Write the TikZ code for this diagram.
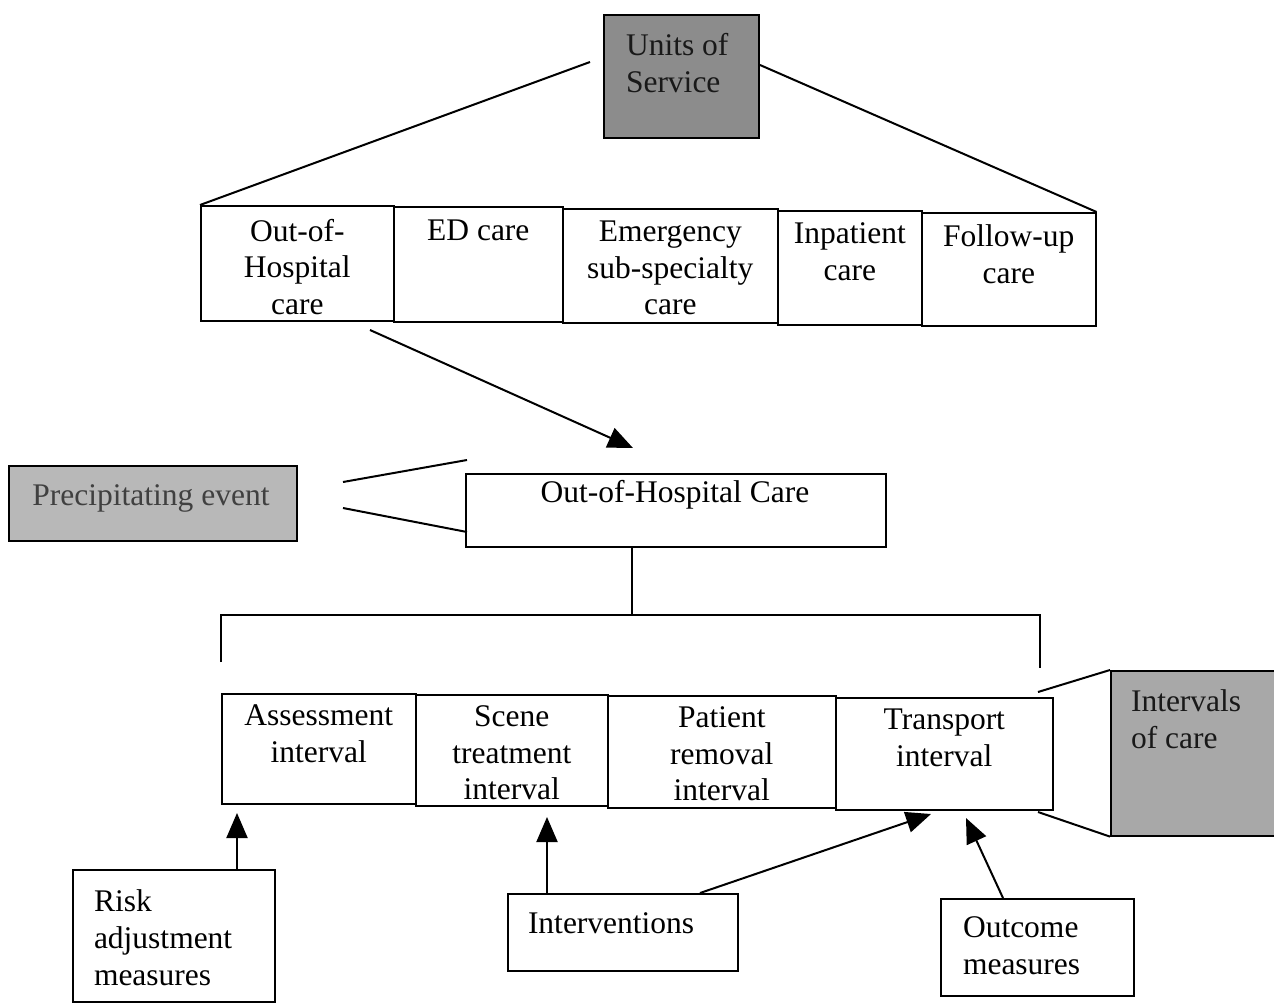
\documentclass[tikz,border=0pt]{standalone}
\usepackage{fontspec}
\setmainfont{Liberation Serif}
\usetikzlibrary{arrows.meta,calc}
\definecolor{darkshade}{HTML}{8C8C8C}
\definecolor{midshade}{HTML}{A8A8A8}
\definecolor{lightshade}{HTML}{B8B8B8}
\begin{document}
\begin{tikzpicture}[x=1pt,y=-1pt,line width=2pt,
  box/.style={draw,line width=1.6pt,inner sep=0pt,anchor=north west},
  txt/.style={font=\fontsize{31.5}{36.5}\selectfont,align=center,inner sep=0pt,anchor=north},
  ltxt/.style={font=\fontsize{31.5}{37}\selectfont,align=left,inner sep=0pt,anchor=north west},
  arr/.style={-{Triangle[length=25pt,width=21pt]},line width=2pt}]
\clip (0,0) rectangle (1274,1004);
\useasboundingbox (0,0) rectangle (1274,1004);
\fill[white] (0,0) rectangle (1274,1004);

% Units of Service
\node[box,fill=darkshade,minimum width=155pt,minimum height=123pt] (us) at (603,14) {};
\node[ltxt,text=black!90] (ust) at (625,32) {Units of\\Service};

% top row
\node[box,minimum width=193pt,minimum height=115pt] (c1) at (200,205) {};
\node[box,minimum width=169pt,minimum height=115pt] (c2) at (393,206) {};
\node[box,minimum width=215pt,minimum height=114pt] (c3) at (562,208) {};
\node[box,minimum width=144pt,minimum height=114pt] (c4) at (777,210) {};
\node[box,minimum width=174pt,minimum height=113pt] (c5) at (921,212) {};
\node[txt] (t1) at ($(c1.north)+(0,13)$) {Out-of-\\Hospital\\care};
\node[txt] (t2) at ($(c2.north)+(0,13)$) {ED care};
\node[txt] (t3) at ($(c3.north)+(0,12)$) {Emergency\\sub-specialty\\care};
\node[txt] (t4) at ($(c4.north)+(0,12)$) {Inpatient\\care};
\node[txt] (t5) at ($(c5.north)+(0,12)$) {Follow-up\\care};

\coordinate (uL) at (590,62);
\coordinate (uR) at (760,65);
\draw (uL) -- (c1.north west);
\draw (uR) -- (c5.north east);

% arrow to Out-of-Hospital Care
\coordinate (a1) at (370,330);
\coordinate (a2) at (633,448);
\draw[arr] (a1) -- (a2);

% Precipitating event
\node[box,fill=lightshade,minimum width=288pt,minimum height=75pt] (pe) at (8,465) {};
\node[font=\fontsize{31.5}{36.5}\selectfont,inner sep=0pt,anchor=base,text=black!75] (pet) at (151,505) {Precipitating event};

% Out-of-Hospital Care
\node[box,minimum width=420pt,minimum height=73pt] (ohc) at (465,473) {};
\node[font=\fontsize{31.5}{36.5}\selectfont,inner sep=0pt,anchor=base] (ohct) at (675,502) {Out-of-Hospital Care};

\coordinate (p1) at (343,482);
\coordinate (p2) at (467,460);
\coordinate (p3) at (343,508);
\coordinate (p4) at (467,532);
\draw (p1) -- (p2);
\draw (p3) -- (p4);

% bracket
\coordinate (bt) at (632,615);
\coordinate (bl) at (221,662);
\coordinate (br) at (1040,668);
\draw (bt |- ohc.south) -- (bt);
\draw (bl) |- (br |- bt) -- (br);

% lower row
\node[box,minimum width=194pt,minimum height=110pt] (d1) at (221,693) {};
\node[box,minimum width=192pt,minimum height=111pt] (d2) at (415,694) {};
\node[box,minimum width=228pt,minimum height=112pt] (d3) at (607,695) {};
\node[box,minimum width=217pt,minimum height=112pt] (d4) at (835,697) {};
\node[txt] (s1) at ($(d1.north)+(0,11)$) {Assessment\\interval};
\node[txt] (s2) at ($(d2.north)+(0,11)$) {Scene\\treatment\\interval};
\node[txt] (s3) at ($(d3.north)+(0,11)$) {Patient\\removal\\interval};
\node[txt] (s4) at ($(d4.north)+(0,11)$) {Transport\\interval};

% Intervals of care
\node[box,fill=midshade,minimum width=190pt,minimum height=165pt] (ic) at (1110,670) {};
\node[ltxt,text=black!90] (ict) at (1130,689) {Intervals\\of care};
\coordinate (i1) at (1038,692);
\coordinate (i2) at (1038,812);
\draw (i1) -- (ic.north west);
\draw (i2) -- (ic.south west);

% bottom boxes
\node[box,minimum width=202pt,minimum height=132pt] (risk) at (72,869) {};
\node[ltxt] (riskt) at (93,889) {Risk\\adjustment\\measures};
\node[box,minimum width=230pt,minimum height=77pt] (intv) at (507,893) {};
\node[ltxt] (intvt) at (527,912) {Interventions};
\node[box,minimum width=193pt,minimum height=97pt] (outc) at (940,898) {};
\node[ltxt] (outct) at (962,916) {Outcome\\measures};

% bottom arrows
\coordinate (r1) at (237,813);
\draw[arr] (r1 |- risk.north) -- (r1);
\coordinate (n1) at (547,817);
\draw[arr] (n1 |- intv.north) -- (n1);
\coordinate (n2) at (700,893);
\coordinate (n3) at (931,814);
\draw[arr] (n2) -- (n3);
\coordinate (o1) at (1003,898);
\coordinate (o2) at (966,818);
\draw[arr] (o1) -- (o2);
\end{tikzpicture}
\end{document}
